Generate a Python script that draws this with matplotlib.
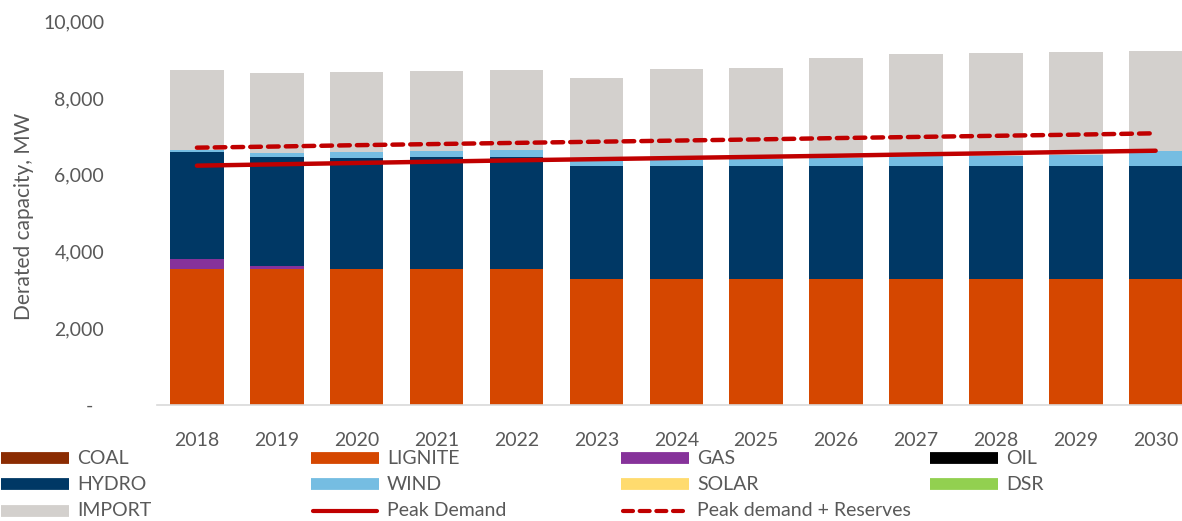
import matplotlib
matplotlib.use("Agg")
import matplotlib.pyplot as plt
from matplotlib.lines import Line2D
from matplotlib.transforms import ScaledTranslation
import numpy as np

plt.rcParams['font.family'] = ['Lato', 'DejaVu Sans']

years = ['2018', '2019', '2020', '2021', '2022', '2023', '2024',
         '2025', '2026', '2027', '2028', '2029', '2030']

coal = [0, 0, 0, 0, 0, 0, 0, 0, 0, 0, 0, 0, 0]
lignite = [3530, 3540, 3530, 3530, 3530, 3280, 3280, 3280, 3280, 3280, 3280, 3280, 3280]
gas = [270, 80, 0, 0, 0, 0, 0, 0, 0, 0, 0, 0, 0]
oil = [0, 0, 0, 0, 0, 0, 0, 0, 0, 0, 0, 0, 0]
hydro = [2800, 2855, 2917, 2944, 2944, 2960, 2960, 2960, 2960, 2960, 2960, 2960, 2960]
wind = [52, 96, 149, 148, 174, 123, 149, 183, 207, 252, 260, 278, 382]
solar = [0, 0, 0, 0, 0, 0, 0, 0, 0, 0, 0, 0, 0]
dsr = [0, 0, 0, 0, 0, 0, 0, 0, 0, 0, 0, 0, 0]
imports = [2090, 2090, 2090, 2090, 2090, 2168, 2377, 2362, 2613, 2664, 2683, 2690, 2613]

peak_demand = [6240, 6275, 6310, 6345, 6380, 6410, 6440, 6470, 6500, 6535, 6565, 6600, 6630]
peak_reserves = [6710, 6740, 6775, 6805, 6835, 6865, 6895, 6925, 6960, 6990, 7020, 7050, 7085]

series = [
    ('COAL', coal, '#8B2C02'),
    ('LIGNITE', lignite, '#D54700'),
    ('GAS', gas, '#86329A'),
    ('OIL', oil, '#000000'),
    ('HYDRO', hydro, '#003865'),
    ('WIND', wind, '#75BDE2'),
    ('SOLAR', solar, '#FFDB6E'),
    ('DSR', dsr, '#92D050'),
    ('IMPORT', imports, '#D3D0CD'),
]
line_color = '#C00000'
text_color = '#595959'
dash_style = (0, (2.4, 1.6))

fig = plt.figure(figsize=(11.82, 5.21), dpi=100)
ax = fig.add_axes([0.1328, 0.2236, 0.8672, 0.7347])

x = np.arange(len(years))
bottom = np.zeros(len(years))
for name, vals, col in series:
    v = np.array(vals, dtype=float)
    ax.bar(x, v, width=0.67, bottom=bottom, color=col, edgecolor='none', zorder=2)
    bottom += v

ax.plot(x, peak_demand, color=line_color, lw=3.2, solid_capstyle='round', zorder=3)
ax.plot(x, peak_reserves, color=line_color, lw=3.2, linestyle=dash_style,
        dash_capstyle='round', zorder=3)

ax.set_xlim(-0.5, 12.33)
ax.set_ylim(0, 10000)
ax.set_xticks(x)
ax.set_xticklabels(years)
yt = [0, 2000, 4000, 6000, 8000, 10000]
ax.set_yticks(yt)
ax.set_yticklabels(['-'] + [f'{v:,}' for v in yt[1:]])
ax.tick_params(axis='y', length=0, pad=38, labelsize=14, labelcolor=text_color)
ax.tick_params(axis='x', length=0, pad=20, labelsize=14, labelcolor=text_color)
# accounting-style dash for zero sits left of the digit column
zero_lbl = ax.get_yticklabels()[0]
zero_lbl.set_transform(zero_lbl.get_transform() +
                       ScaledTranslation(-0.11, 0, fig.dpi_scale_trans))
for s in ['top', 'right', 'left']:
    ax.spines[s].set_visible(False)
ax.spines['bottom'].set_color('#D9D9D9')
ax.spines['bottom'].set_linewidth(1.2)

fig.text(0.020, 0.585, 'Derated capacity, MW', rotation=90, ha='center', va='center',
         fontsize=15, color=text_color)

# legend laid out in a 4-column grid below the plot
W, H = 1182.0, 521.0
col_x = [1, 311, 621, 930]
row_y = [458, 484, 511]
entries = [
    ('COAL', '#8B2C02', 'patch'), ('LIGNITE', '#D54700', 'patch'),
    ('GAS', '#86329A', 'patch'), ('OIL', '#000000', 'patch'),
    ('HYDRO', '#003865', 'patch'), ('WIND', '#75BDE2', 'patch'),
    ('SOLAR', '#FFDB6E', 'patch'), ('DSR', '#92D050', 'patch'),
    ('IMPORT', '#D3D0CD', 'patch'), ('Peak Demand', line_color, 'solid'),
    ('Peak demand + Reserves', line_color, 'dash'),
]
for i, (label, col, kind) in enumerate(entries):
    r, c = divmod(i, 4)
    x0 = col_x[c]
    y0 = row_y[r]
    xs = [x0 / W, (x0 + 68) / W]
    ys = [1 - y0 / H, 1 - y0 / H]
    if kind == 'patch':
        fig.add_artist(Line2D(xs, ys, color=col, lw=8.5, solid_capstyle='butt'))
    elif kind == 'solid':
        fig.add_artist(Line2D([(x0 + 2) / W, (x0 + 66) / W], ys, color=col, lw=3,
                              solid_capstyle='round'))
    else:
        fig.add_artist(Line2D([(x0 + 2) / W, (x0 + 66) / W], ys, color=col, lw=3,
                              linestyle=dash_style, dash_capstyle='round'))
    fig.text((x0 + 76) / W, 1 - y0 / H, label, ha='left', va='center',
             fontsize=14, color=text_color)

fig.savefig('out.png', dpi=100)
